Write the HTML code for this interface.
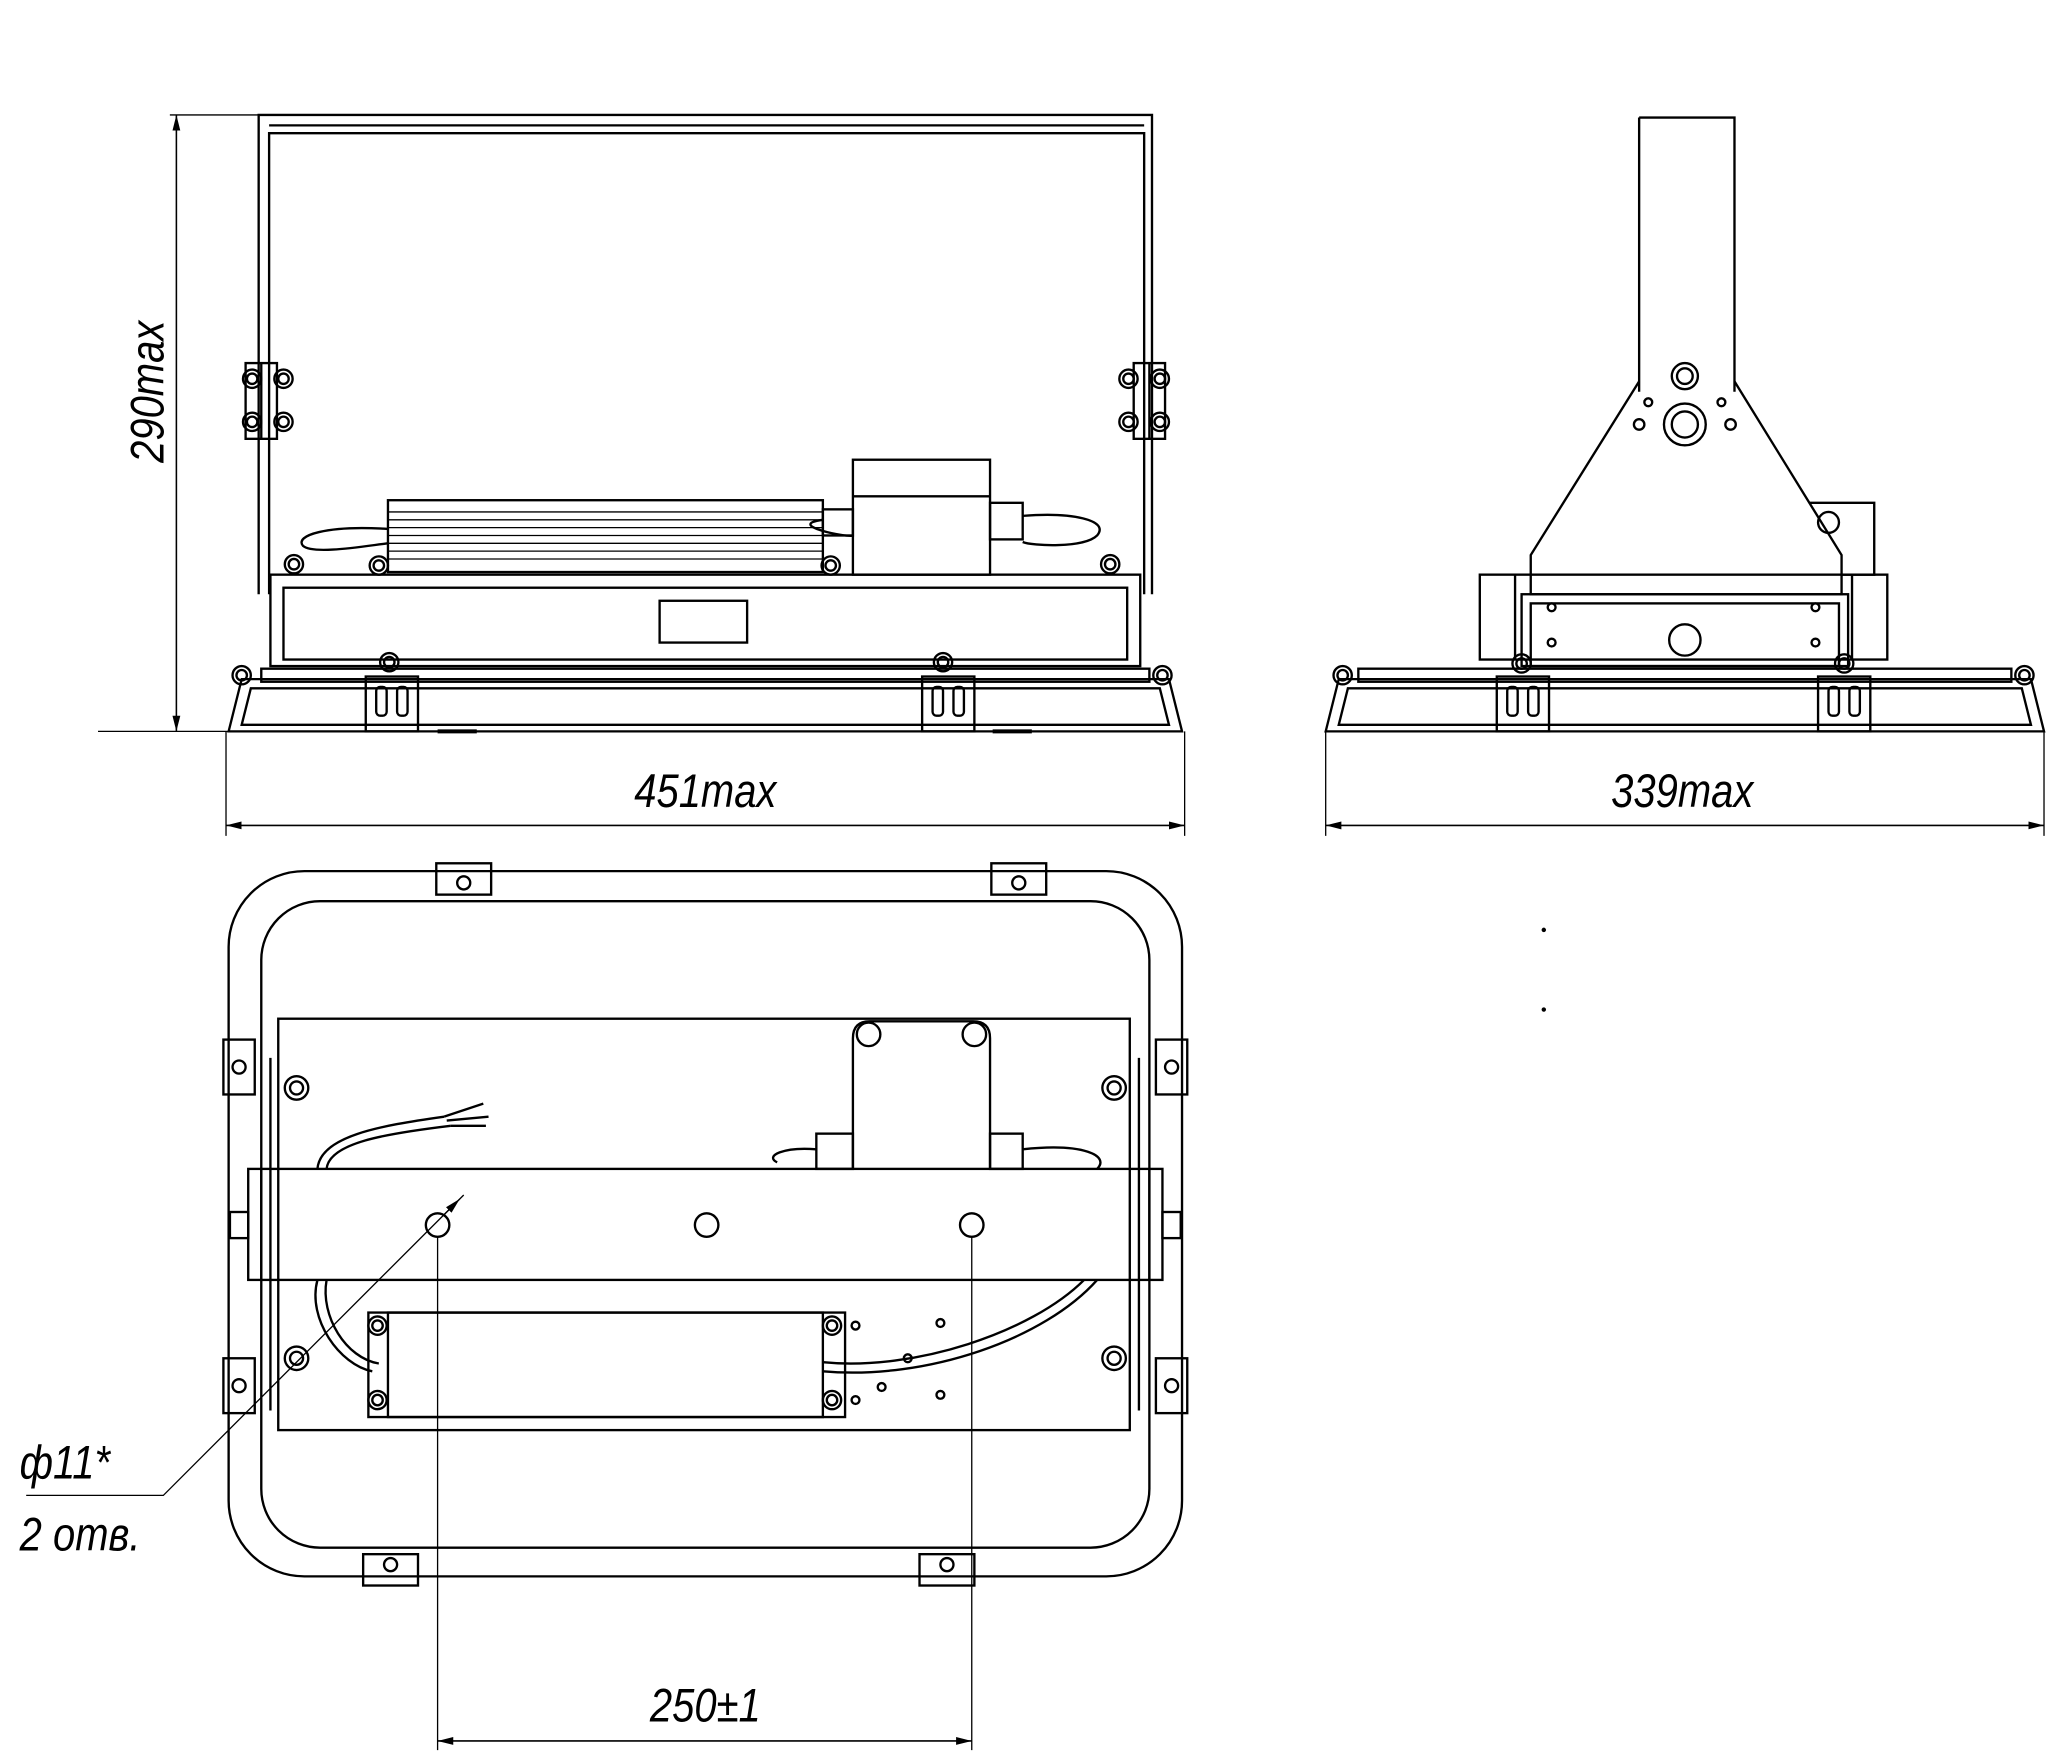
<!DOCTYPE html>
<html><head><meta charset="utf-8"><style>
html,body{margin:0;padding:0;background:#fff}
svg{display:block}
text{font-family:"Liberation Sans",sans-serif;font-style:italic;fill:#000}
</style></head><body>
<svg width="2048" height="1754" viewBox="0 0 1568 1343" xmlns="http://www.w3.org/2000/svg" fill="none" stroke="#000" stroke-width="1.8">
<defs>
<marker id="a" viewBox="0 0 12 6" refX="12" refY="3" markerWidth="12" markerHeight="6" orient="auto-start-reverse" markerUnits="userSpaceOnUse"><path d="M0,0L12,3L0,6z" fill="#000" stroke="none"/></marker>
<g id="nut"><circle r="7"/><circle r="4"/></g>
<g id="clip"><rect x="0" y="0" width="40" height="42"/><rect x="8" y="8" width="8" height="22" rx="3"/><rect x="24" y="8" width="8" height="22" rx="3"/></g>
</defs>

<!-- ===== FRONT VIEW ===== -->
<path d="M198,455 V88 H882 V455" />
<path d="M206,455 V102 H876 V455" />
<line x1="206" y1="96" x2="876" y2="96"/>
<g><rect x="188" y="278" width="24" height="58"/><line x1="200" y1="278" x2="200" y2="336"/>
<use href="#nut" x="193" y="290"/><use href="#nut" x="217" y="290"/><use href="#nut" x="193" y="323"/><use href="#nut" x="217" y="323"/></g>
<g><rect x="868" y="278" width="24" height="58"/><line x1="880" y1="278" x2="880" y2="336"/>
<use href="#nut" x="864" y="290"/><use href="#nut" x="888" y="290"/><use href="#nut" x="864" y="323"/><use href="#nut" x="888" y="323"/></g>
<rect x="297" y="383" width="333" height="55"/>
<g stroke-width="1">
<line x1="297" y1="392" x2="630" y2="392"/><line x1="297" y1="398" x2="630" y2="398"/><line x1="297" y1="404" x2="630" y2="404"/><line x1="297" y1="410" x2="630" y2="410"/><line x1="297" y1="416" x2="630" y2="416"/><line x1="297" y1="422" x2="630" y2="422"/><line x1="297" y1="428" x2="630" y2="428"/>
</g>
<path d="M297,405 C250,402 225,410 232,418 C240,425 280,418 297,416"/>
<rect x="653" y="352" width="105" height="88"/><line x1="653" y1="380" x2="758" y2="380"/>
<rect x="630" y="390" width="23" height="20"/><rect x="758" y="385" width="25" height="28"/>
<path d="M783,395 C820,392 850,398 840,410 C830,420 790,418 783,415"/>
<path d="M630,398 C600,402 650,412 653,410"/>
<use href="#nut" x="225" y="432"/><use href="#nut" x="290" y="433"/><use href="#nut" x="636" y="433"/><use href="#nut" x="850" y="432"/>
<rect x="207" y="440" width="666" height="70"/>
<rect x="217" y="450" width="646" height="55"/>
<rect x="505" y="460" width="67" height="32"/>
<path d="M175,560 L185,520 H895 L905,560 Z"/>
<path d="M185,555 L192,527 H888 L895,555 Z"/>
<rect x="200" y="512" width="680" height="10"/>
<use href="#nut" x="185" y="517"/><use href="#nut" x="890" y="517"/><use href="#nut" x="298" y="507"/><use href="#nut" x="722" y="507"/>
<use href="#clip" x="280" y="518"/><use href="#clip" x="706" y="518"/>
<line x1="335" y1="560" x2="365" y2="560" stroke-width="3"/><line x1="760" y1="560" x2="790" y2="560" stroke-width="3"/>
<line x1="130" y1="88" x2="198" y2="88" stroke-width="1"/>
<line x1="75" y1="560" x2="280" y2="560" stroke-width="1"/>
<line x1="135" y1="88" x2="135" y2="560" stroke-width="1.2" marker-start="url(#a)" marker-end="url(#a)"/>
<text transform="translate(125,300) rotate(-90) scale(0.85,1)" text-anchor="middle" font-size="36" stroke="none">290max</text>
<line x1="173" y1="560" x2="173" y2="640" stroke-width="1"/><line x1="907" y1="560" x2="907" y2="640" stroke-width="1"/>
<line x1="173" y1="632" x2="907" y2="632" stroke-width="1.2" marker-start="url(#a)" marker-end="url(#a)"/>
<text transform="translate(540,618) scale(0.85,1)" text-anchor="middle" font-size="36" stroke="none">451max</text>

<!-- ===== SIDE VIEW ===== -->
<path d="M1255,90 H1328 V300"/><line x1="1255" y1="90" x2="1255" y2="300"/>
<path d="M1255,292 L1172,425 V455 H1410 V425 L1328,292"/>
<circle cx="1290" cy="288" r="10"/><circle cx="1290" cy="288" r="6"/>
<circle cx="1290" cy="325" r="16"/><circle cx="1290" cy="325" r="10"/>
<circle cx="1255" cy="325" r="4"/><circle cx="1325" cy="325" r="4"/><circle cx="1262" cy="308" r="3"/><circle cx="1318" cy="308" r="3"/>
<path d="M1385,385 H1435 V440 H1410"/><circle cx="1400" cy="400" r="8"/>
<rect x="1133" y="440" width="312" height="65"/>
<line x1="1160" y1="440" x2="1160" y2="505"/><line x1="1418" y1="440" x2="1418" y2="505"/>
<rect x="1165" y="455" width="250" height="55"/>
<rect x="1172" y="462" width="236" height="48"/>
<circle cx="1290" cy="490" r="12"/>
<circle cx="1188" cy="465" r="3"/><circle cx="1390" cy="465" r="3"/><circle cx="1188" cy="492" r="3"/><circle cx="1390" cy="492" r="3"/>
<path d="M1015,560 L1025,520 H1555 L1565,560 Z"/>
<path d="M1025,555 L1032,527 H1548 L1555,555 Z"/>
<rect x="1040" y="512" width="500" height="10"/>
<use href="#nut" x="1028" y="517"/><use href="#nut" x="1550" y="517"/><use href="#nut" x="1165" y="508"/><use href="#nut" x="1412" y="508"/>
<use href="#clip" x="1146" y="518"/><use href="#clip" x="1392" y="518"/>
<line x1="1015" y1="560" x2="1015" y2="640" stroke-width="1"/><line x1="1565" y1="560" x2="1565" y2="640" stroke-width="1"/>
<line x1="1015" y1="632" x2="1565" y2="632" stroke-width="1.2" marker-start="url(#a)" marker-end="url(#a)"/>
<text transform="translate(1288,618) scale(0.85,1)" text-anchor="middle" font-size="36" stroke="none">339max</text>
<circle cx="1182" cy="712" r="0.8" fill="#000"/><circle cx="1182" cy="773" r="0.8" fill="#000"/>

<!-- ===== BOTTOM VIEW ===== -->
<rect x="175" y="667" width="730" height="540" rx="58"/>
<rect x="200" y="690" width="680" height="495" rx="45"/>
<g>
<rect x="334" y="661" width="42" height="24"/><rect x="759" y="661" width="42" height="24"/>
<rect x="278" y="1190" width="42" height="24"/><rect x="704" y="1190" width="42" height="24"/>
<rect x="171" y="796" width="24" height="42"/><rect x="171" y="1040" width="24" height="42"/>
<rect x="885" y="796" width="24" height="42"/><rect x="885" y="1040" width="24" height="42"/>
<circle cx="355" cy="676" r="5"/><circle cx="780" cy="676" r="5"/><circle cx="299" cy="1198" r="5"/><circle cx="725" cy="1198" r="5"/>
<circle cx="183" cy="817" r="5"/><circle cx="183" cy="1061" r="5"/><circle cx="897" cy="817" r="5"/><circle cx="897" cy="1061" r="5"/>
<rect x="176" y="928" width="14" height="20"/><rect x="890" y="928" width="14" height="20"/>
</g>
<rect x="213" y="780" width="652" height="315"/>
<line x1="207" y1="810" x2="207" y2="1080"/><line x1="872" y1="810" x2="872" y2="1080"/>
<circle cx="227" cy="833" r="9"/><circle cx="227" cy="833" r="5"/>
<circle cx="853" cy="833" r="9"/><circle cx="853" cy="833" r="5"/>
<circle cx="227" cy="1040" r="9"/><circle cx="227" cy="1040" r="5"/>
<circle cx="853" cy="1040" r="9"/><circle cx="853" cy="1040" r="5"/>
<path d="M653,895 V795 Q653,782 666,782 H745 Q758,782 758,795 V895"/>
<circle cx="665" cy="792" r="9"/><circle cx="746" cy="792" r="9"/>
<rect x="625" y="868" width="28" height="27"/><rect x="758" y="868" width="25" height="27"/>
<path d="M625,880 C600,878 585,885 595,890 M783,880 C830,875 850,885 840,895"/>
<path d="M243,895 C245,870 290,862 340,855 M250,895 C252,875 295,868 345,862"/>
<path d="M340,855 L370,845 M342,858 L374,855 M345,862 L372,862"/>
<rect x="190" y="895" width="700" height="85"/>
<line x1="200" y1="895" x2="200" y2="980"/><line x1="880" y1="895" x2="880" y2="980"/>
<circle cx="335" cy="938" r="9"/><circle cx="541" cy="938" r="9"/><circle cx="744" cy="938" r="9"/>
<path d="M243,980 C235,1010 260,1045 285,1050 M250,980 C245,1008 265,1040 290,1044"/>
<path d="M630,1043 C700,1050 790,1020 830,980 M630,1050 C710,1057 800,1025 840,980"/>
<rect x="282" y="1005" width="365" height="80"/>
<rect x="297" y="1005" width="333" height="80"/>
<use href="#nut" x="289" y="1015"/><use href="#nut" x="289" y="1072"/><use href="#nut" x="637" y="1015"/><use href="#nut" x="637" y="1072"/>
<circle cx="655" cy="1015" r="3"/><circle cx="720" cy="1013" r="3"/><circle cx="675" cy="1062" r="3"/><circle cx="720" cy="1068" r="3"/><circle cx="655" cy="1072" r="3"/><circle cx="695" cy="1040" r="3"/>
<path d="M355,915 L125,1145 H20" stroke-width="1"/>
<line x1="340" y1="930" x2="352" y2="918" stroke-width="1" marker-end="url(#a)"/>
<text transform="translate(15,1132) scale(0.85,1)" font-size="36" stroke="none">ф11*</text>
<text transform="translate(15,1187) scale(0.85,1)" font-size="36" stroke="none">2 отв.</text>
<line x1="335" y1="947" x2="335" y2="1340" stroke-width="1"/><line x1="744" y1="947" x2="744" y2="1340" stroke-width="1"/>
<line x1="335" y1="1333" x2="744" y2="1333" stroke-width="1.2" marker-start="url(#a)" marker-end="url(#a)"/>
<text transform="translate(540,1318) scale(0.85,1)" text-anchor="middle" font-size="36" stroke="none">250±1</text>
</svg>
</body></html>
